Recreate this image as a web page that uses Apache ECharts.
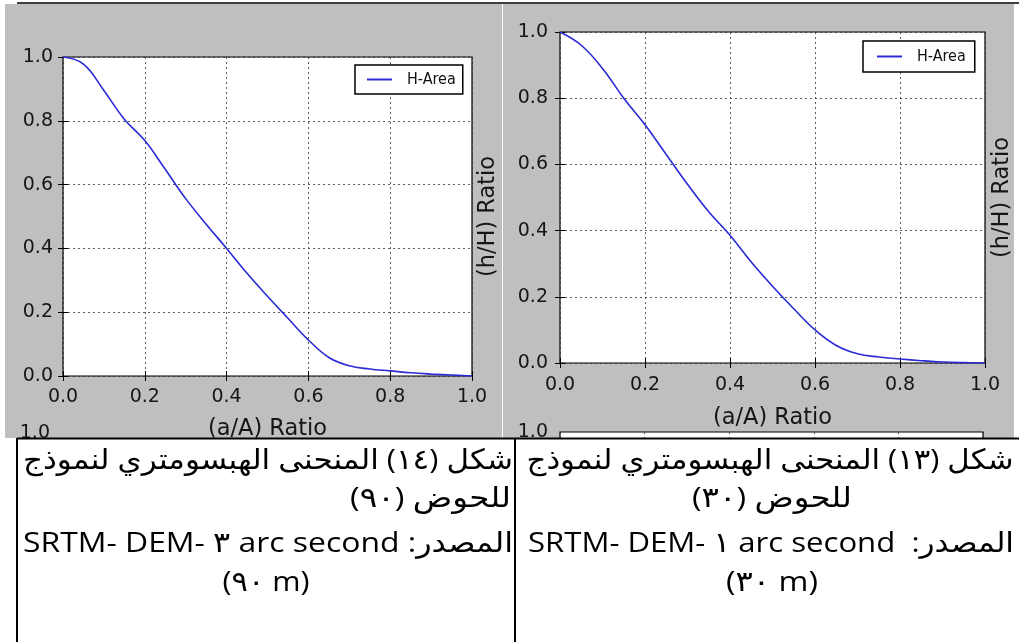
<!DOCTYPE html>
<html><head><meta charset="utf-8">
<script src="https://cdn.jsdelivr.net/npm/echarts@6/dist/echarts.min.js"></script>
<style>html,body{margin:0;padding:0;background:#fff;overflow:hidden}#c{width:1019px;height:642px}</style>
</head><body><div id="c"></div>
<script>
// ---- data ----
const xRatio = [0, 0.05, 0.10, 0.15, 0.20, 0.25, 0.30, 0.35, 0.40, 0.45, 0.50, 0.55, 0.60, 0.65, 0.70, 0.75, 0.80, 0.85, 0.90, 0.95, 1.00];
const hRatio90m = [1.0, 0.978, 0.895, 0.805, 0.738, 0.648, 0.556, 0.476, 0.40, 0.322, 0.25, 0.181, 0.113, 0.058, 0.032, 0.022, 0.016, 0.010, 0.006, 0.003, 0.0];
const hRatio30m = [1.0, 0.96, 0.89, 0.80, 0.72, 0.63, 0.54, 0.457, 0.386, 0.305, 0.232, 0.164, 0.10, 0.053, 0.028, 0.018, 0.012, 0.007, 0.003, 0.001, 0.0];
const seriesName = 'H-Area';
const xAxisTitle = '(a/A) Ratio';
const yAxisTitle = '(h/H) Ratio';
const captionFig14 = [
  '\u200Fشكل (١٤) المنحنى الهبسومتري لنموذج\u200F',
  '\u200Fللحوض (٩٠)\u200F',
  '\u200ESRTM- DEM- ٣ arc second :المصدر',
  '\u200E(٩٠ m)'
];
const captionFig13 = [
  '\u200Fشكل (١٣) المنحنى الهبسومتري لنموذج\u200F',
  '\u200Fللحوض (٣٠)\u200F',
  '\u200ESRTM- DEM- ١ arc second  :المصدر',
  '\u200E(٣٠ m)'
];

// ---- helpers ----
const FONT = "'DejaVu Sans', sans-serif";
const pairs = h => xRatio.map((x, i) => [x, h[i]]);
const fmt = v => v.toFixed(1);
const labelStyle = (margin, show = true) => ({show, margin, formatter: fmt, color: '#151515', fontSize: 19, fontFamily: FONT});
const gridLine = {show: true, lineStyle: {color: '#333', type: [2, 3], width: 0.8}};
const tick = {show: true, inside: true, length: 5, lineStyle: {color: '#000', width: 1}};
const nameStyle = {color: '#151515', fontSize: 22.5, fontFamily: FONT};

function bottomX(g, gap, margin) {
  return {type: 'value', gridIndex: g, position: 'bottom', min: 0, max: 1, interval: 0.2,
    name: xAxisTitle, nameLocation: 'middle', nameGap: gap, nameTextStyle: nameStyle,
    axisLine: {show: false}, axisTick: tick, axisLabel: labelStyle(margin), splitLine: gridLine};
}
function topX(g) {
  return {type: 'value', gridIndex: g, position: 'top', min: 0, max: 1, interval: 0.2,
    axisLine: {show: false}, axisTick: tick, axisLabel: {show: false}, splitLine: {show: false}};
}
function leftY(g, margin) {
  return {type: 'value', gridIndex: g, position: 'left', min: 0, max: 1, interval: 0.2,
    axisLine: {show: false}, axisTick: tick, axisLabel: labelStyle(margin), splitLine: gridLine};
}
function rightY(g, gap) {
  return {type: 'value', gridIndex: g, position: 'right', min: 0, max: 1, interval: 0.2,
    name: yAxisTitle, nameLocation: 'middle', nameGap: gap, nameRotate: 90, nameTextStyle: nameStyle,
    axisLine: {show: false}, axisTick: tick, axisLabel: {show: false}, splitLine: {show: false}};
}
function legendAt(left, top, pad) {
  return {data: [seriesName], left, top, padding: pad, itemWidth: 25, itemHeight: 2, icon: 'rect',
    selectedMode: false, borderColor: '#000', borderWidth: 1.5, backgroundColor: '#fff', borderRadius: 0,
    textStyle: {fontFamily: "'DejaVu Sans Condensed','DejaVu Sans'", fontSize: 16, color: '#111', lineHeight: 17, padding: [0, 0, 0, 10]}};
}

// caption text fitting
const mctx = document.createElement('canvas').getContext('2d');
const CAP_FONT_SIZE = 28;
const CAP_FONT = CAP_FONT_SIZE + "px 'Open Sans', 'DejaVu Sans'";
function capText(t, x, y, align, targetW) {
  mctx.font = CAP_FONT;
  const w = mctx.measureText(t).width || targetW;
  const s = targetW / w;
  return {type: 'text', x, y, scaleX: s, z: 102,
    style: {text: t, font: CAP_FONT, fill: '#000', align, verticalAlign: 'middle', textAlign: align, textVerticalAlign: 'middle'}};
}
const capLeft = [
  capText(captionFig14[0], 268, 461, 'center', 490),
  capText(captionFig14[1], 511, 499, 'right', 161),
  capText(captionFig14[2], 268, 544, 'center', 490),
  capText(captionFig14[3], 266, 583, 'center', 87)
];
const capRight = [
  capText(captionFig13[0], 770, 461, 'center', 487),
  capText(captionFig13[1], 772, 499, 'center', 160),
  capText(captionFig13[2], 771, 544, 'center', 486),
  capText(captionFig13[3], 772, 583, 'center', 92)
];

const chart = echarts.init(document.getElementById('c'), null, {renderer: 'canvas'});
chart.setOption({
  backgroundColor: '#fff',
  animation: false,
  grid: [
    {left: 63, top: 57, width: 409, height: 319, show: true, borderColor: '#000', borderWidth: 1.2, backgroundColor: '#fff'},
    {left: 560, top: 32, width: 425, height: 331, show: true, borderColor: '#000', borderWidth: 1.2, backgroundColor: '#fff'},
    {left: 60, top: 433, width: 409, height: 300, show: false},
    {left: 560, top: 432, width: 423, height: 300, show: true, borderColor: '#000', borderWidth: 1.2, backgroundColor: '#fff'}
  ],
  xAxis: [
    bottomX(0, 42, 12), topX(0),
    bottomX(1, 44, 13), topX(1),
    {type: 'value', gridIndex: 2, min: 0, max: 1, show: false},
    {type: 'value', gridIndex: 3, min: 0, max: 1, interval: 0.2, axisLine: {show: false}, axisTick: {show: false}, axisLabel: {show: false}, splitLine: gridLine}
  ],
  yAxis: [
    leftY(0, 10), rightY(0, 5),
    leftY(1, 12), rightY(1, 6),
    {type: 'value', gridIndex: 2, min: 0, max: 1, interval: 0.2, axisLine: {show: false}, axisTick: {show: false}, axisLabel: labelStyle(10), splitLine: {show: false}},
    {type: 'value', gridIndex: 3, min: 0, max: 1, interval: 0.2, axisLine: {show: false}, axisTick: {show: false}, axisLabel: labelStyle(12), splitLine: {show: false}}
  ],
  legend: [legendAt(355, 65, [6, 7, 6, 12]), legendAt(863, 41, [7, 9, 7, 14])],
  series: [
    {name: seriesName, type: 'line', xAxisIndex: 0, yAxisIndex: 0, data: pairs(hRatio90m), symbol: 'none', smooth: 0.4,
      lineStyle: {color: '#2a2ad6', width: 1.6}, itemStyle: {color: '#2a2ad6'}},
    {name: seriesName, type: 'line', xAxisIndex: 2, yAxisIndex: 2, data: pairs(hRatio30m), symbol: 'none', smooth: 0.4,
      lineStyle: {color: '#2a2ad6', width: 1.6}, itemStyle: {color: '#2a2ad6'}}
  ],
  graphic: {elements: [
    {type: 'rect', z: -10, shape: {x: 5, y: 4, width: 497, height: 434}, style: {fill: '#bfbfbf'}},
    {type: 'rect', z: -10, shape: {x: 503, y: 4, width: 511, height: 434}, style: {fill: '#bfbfbf'}},
    {type: 'line', z: 101, shape: {x1: 17, y1: 3, x2: 1019, y2: 3}, style: {stroke: '#000', lineWidth: 1.5}},
    {type: 'rect', z: 100, shape: {x: 0, y: 438, width: 1019, height: 204}, style: {fill: '#fff'}},
    {type: 'line', z: 101, shape: {x1: 17, y1: 438.5, x2: 1019, y2: 438.5}, style: {stroke: '#000', lineWidth: 2}},
    {type: 'line', z: 101, shape: {x1: 17, y1: 438, x2: 17, y2: 642}, style: {stroke: '#000', lineWidth: 2}},
    {type: 'line', z: 101, shape: {x1: 515, y1: 438, x2: 515, y2: 642}, style: {stroke: '#000', lineWidth: 2}},
    ...capLeft, ...capRight
  ]}
});
</script></body></html>
